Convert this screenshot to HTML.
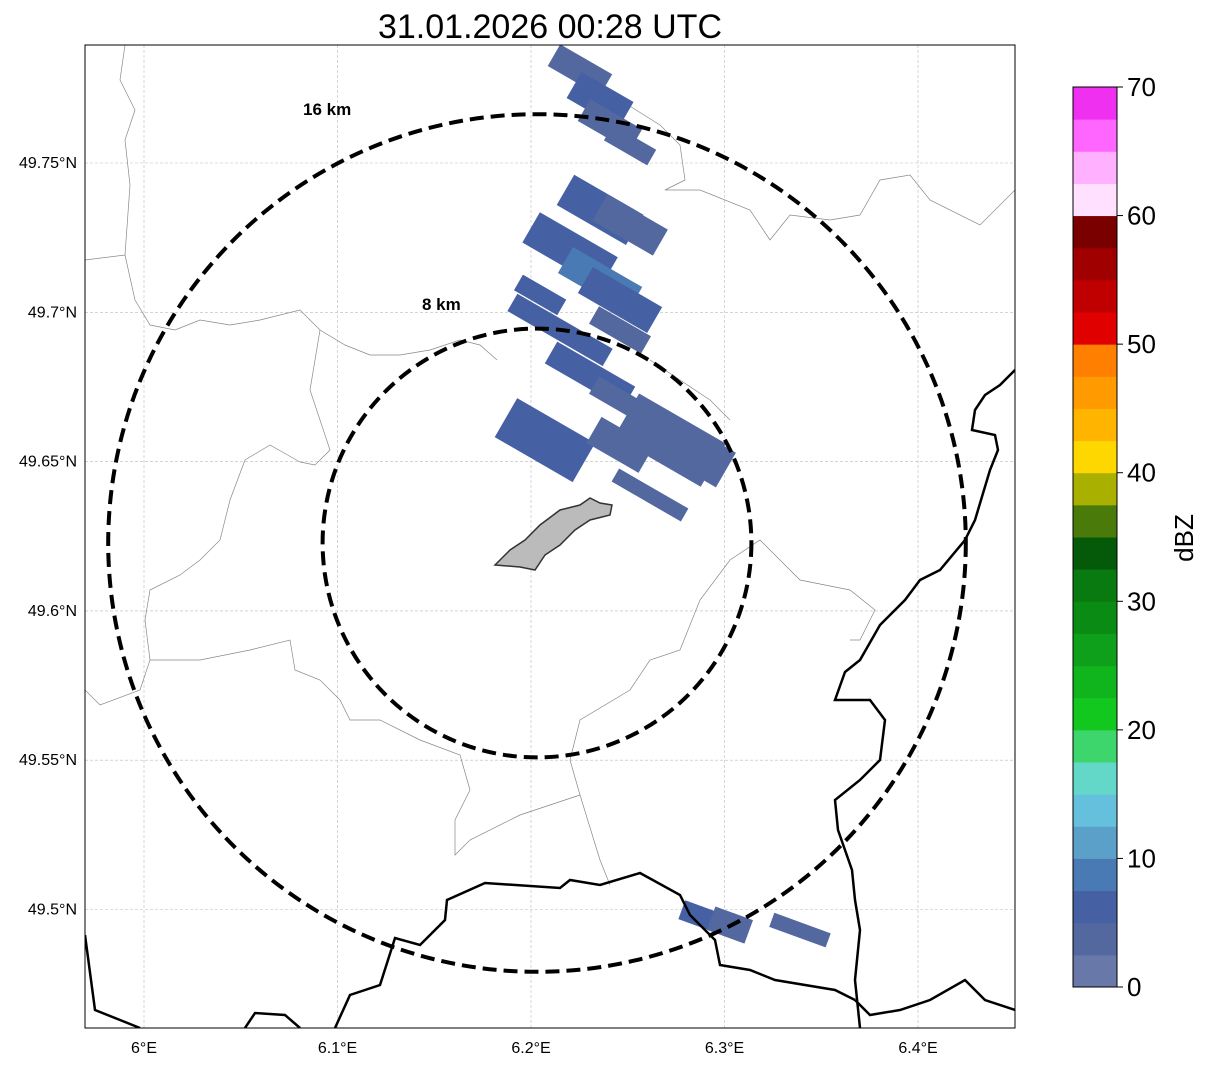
<!DOCTYPE html>
<html><head><meta charset="utf-8"><style>
body{margin:0;background:#fff;font-family:"Liberation Sans","DejaVu Sans",sans-serif}
</style></head><body>
<svg id="s" width="1207" height="1064" xmlns="http://www.w3.org/2000/svg">
<text x="550" y="38" font-size="34" text-anchor="middle">31.01.2026 00:28 UTC</text>
<defs><clipPath id="cp"><rect x="85" y="45" width="930" height="983"/></clipPath></defs>
<g id="grid"></g>
<g clip-path="url(#cp)">
<g id="thin" fill="none" stroke="#888" stroke-width="0.7">
<polyline points="85,260 125,255 135,300 150,325 175,330 200,320 230,325 260,320 300,310 320,330 345,345 370,355 400,355 430,350 460,340 480,345 497,360"/>
<polyline points="125,45 120,80 135,110 125,140 130,185 125,255"/>
<polyline points="620,100 660,125 680,145 685,180 665,190 700,190 750,210 770,240 790,215 830,220 860,215 880,180 910,175 930,200 980,225 1015,190"/>
<polyline points="320,330 315,360 310,390 320,420 330,450 315,465 300,462"/>
<polyline points="300,462 270,445 245,460 230,500 220,540 200,560 180,575 150,590 145,620 150,660 140,690 100,705 85,690"/>
<polyline points="150,660 200,660 250,650 290,640 295,670 320,680 340,700 350,720 380,720 420,740 460,755 470,790 455,820 455,855 470,840 520,815 580,795 600,860 610,885"/>
<polyline points="580,795 570,760 580,720 630,690 650,660 680,650 700,600 730,560 760,540 780,560 800,580 850,590 875,610 860,640 850,640"/>
<polyline points="650,360 680,380 710,400 730,420"/>
</g>
<path d="M495,565 L510,550 L525,540 L540,525 L560,510 L580,505 L590,498 L600,503 L612,505 L610,515 L590,520 L575,530 L560,545 L545,555 L535,570 L520,567 Z" fill="#bbb" stroke="#333" stroke-width="1.5"/>
<g id="echoes"></g>
<g fill="none" stroke="#000" stroke-width="2.5">
<polyline points="1015,370 1000,385 985,395 975,410 972,430 995,435 998,450 990,470 975,520 965,540 940,570 920,580 905,600 880,625 860,660 845,672 835,700 870,700 885,720 880,760 860,780 835,800 838,830 852,870 855,900 860,930 855,980 860,1028"/>
<polyline points="85,935 95,1010 140,1028"/>
<polyline points="245,1028 255,1013 285,1015 300,1028"/>
<polyline points="335,1028 350,995 380,985 395,938 420,945 445,920 447,900 485,883 560,888 570,880 600,885 640,873 680,895 690,915 715,940 720,965 750,970 775,980 835,990 855,1000"/>
<polyline points="855,1000 870,1015 900,1010 930,1000 965,980 985,1000 1015,1010"/>
</g>
</g>
<g id="rings"></g>
<text x="303" y="115" font-size="17" font-weight="bold">16 km</text>
<text x="422" y="310" font-size="17" font-weight="bold">8 km</text>
<rect x="85" y="45" width="930" height="983" fill="none" stroke="#000" stroke-width="1"/>
<g id="ticks" font-size="16"></g>
<g id="cbar"></g>
<text transform="translate(1193,538) rotate(-90)" font-size="26" text-anchor="middle">dBZ</text>
</svg>
<script>
const lonTicks=[6.0,6.1,6.2,6.3,6.4];
const lonLabels=["6°E","6.1°E","6.2°E","6.3°E","6.4°E"];
const latTicks=[49.75,49.7,49.65,49.6,49.55,49.5];
const latLabels=["49.75°N","49.7°N","49.65°N","49.6°N","49.55°N","49.5°N"];
const echoLon=[6.2253,6.2357,6.2408,6.2512,6.2357,6.2512,6.2202,6.2357,6.2460,6.2047,6.2150,6.2460,6.2305,6.2460,6.2072,6.2718,6.2460,6.2873,6.2615,6.2925,6.3390,6.3028];
const echoLat=[49.7811,49.7711,49.7627,49.7560,49.7343,49.7292,49.7209,49.7108,49.7041,49.7058,49.6941,49.6941,49.6790,49.6706,49.6572,49.6572,49.6556,49.6522,49.6388,49.4965,49.4931,49.4948];
const echoDbz=[3,5,4,3,5,4,6,9,6,5,5,4,5,4,5,3,4,3,3,5,3,4];
const echoLen=[60,60,60,50,80,70,90,80,80,50,110,60,90,60,90,100,60,60,80,60,60,40];
const echoWid=[25,30,25,18,35,30,35,30,30,18,20,20,25,20,45,50,30,40,15,20,15,25];
const echoAng=[30,30,30,30,30,30,30,30,30,30,30,30,30,30,30,30,30,30,30,20,20,20];
const ringKm=[16,8];
const cbColors=["#6878a8","#5468a0","#4660a4","#4a7ab4","#5aa0c8","#64c0dc","#64d8c8","#3cd66c","#12c81e","#10b41c","#0ea01a","#0a8c14","#087a10","#055a0a","#4a7a0a","#aab000","#ffd700","#ffb400","#ff9a00","#ff7f00","#e00000","#c00000","#a00000","#7a0000","#ffe0ff","#ffb0ff","#ff66ff","#f030f0"];
const cbTicks=[0,10,20,30,40,50,60,70];
const NS="http://www.w3.org/2000/svg";
const X=lon=>144+(lon-6)*1935, Y=lat=>163-(lat-49.75)*2986;
const CB=v=>987-v*900/70;
function mk(t,a,p){const e=document.createElementNS(NS,t);for(const k in a)e.setAttribute(k,a[k]);p.appendChild(e);return e;}
const grid=document.getElementById('grid'),ticks=document.getElementById('ticks');
lonTicks.forEach((v,i)=>{
 const l=mk('line',{x1:X(v),x2:X(v),y1:45,y2:1028,stroke:'#bbb','stroke-width':0.6,'stroke-dasharray':'3,2'},grid);
 
 
 const t=mk('text',{x:X(v),y:1053,'text-anchor':'middle'},ticks);t.textContent=lonLabels[i];
 
 
});
latTicks.forEach((v,i)=>{
 const l=mk('line',{x1:85,x2:1015,y1:Y(v),y2:Y(v),stroke:'#bbb','stroke-width':0.6,'stroke-dasharray':'3,2'},grid);
 
 
 const t=mk('text',{x:77,y:Y(v)+5,'text-anchor':'end'},ticks);t.textContent=latLabels[i];
 
 
});
function col(v){return cbColors[Math.max(0,Math.min(27,Math.floor(v/2.5)))];}
const eg=document.getElementById('echoes');
echoLon.forEach((lo,i)=>{
 const cx=X(lo),cy=Y(echoLat[i]),w=echoLen[i],h=echoWid[i];
 const r=mk('rect',{x:cx-w/2,y:cy-h/2,width:w,height:h,fill:col(echoDbz[i]),transform:`rotate(${echoAng[i]} ${cx} ${cy})`},eg);
 
 
});
const rg=document.getElementById('rings');
ringKm.forEach(k=>{
 const c=mk('ellipse',{cx:537,cy:543,rx:k*26.8,ry:k*26.8,fill:'none',stroke:'#000','stroke-width':4,'stroke-dasharray':'14,7'},rg);
 
 
});
const cb=document.getElementById('cbar');
cbColors.forEach((c,i)=>{
 const r=mk('rect',{x:1073,y:CB((i+1)*2.5),width:44,height:CB(i*2.5)-CB((i+1)*2.5)+0.5,fill:c},cb);
 
 
});
mk('rect',{x:1073,y:87,width:44,height:900,fill:'none',stroke:'#000','stroke-width':1},cb);
cbTicks.forEach(v=>{
 mk('line',{x1:1117,x2:1123,y1:CB(v),y2:CB(v),stroke:'#000'},cb);
 const t=mk('text',{x:1127,y:CB(v)+9,'font-size':26},cb);t.textContent=v;
 
 
});
</script>
</body></html>
